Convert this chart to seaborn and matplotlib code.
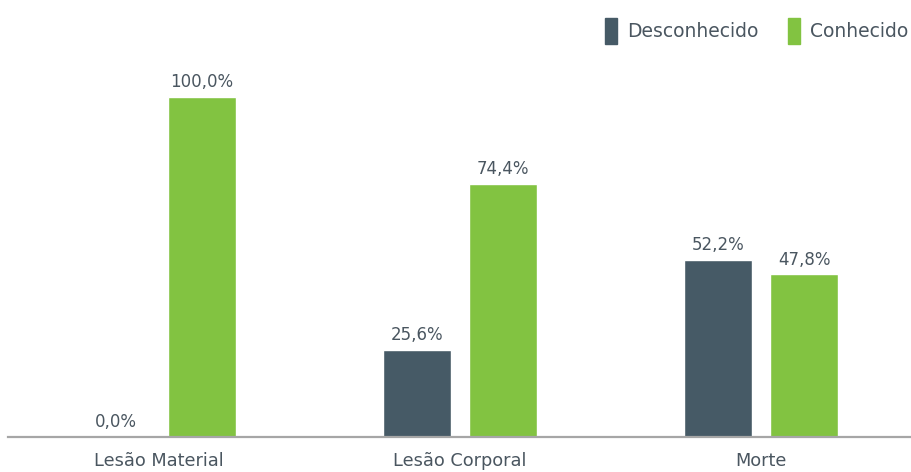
import matplotlib
matplotlib.use("Agg")
import matplotlib.pyplot as plt
import matplotlib.patches as mpatches
import seaborn as sns
import pandas as pd

categories = ["Lesão Material", "Lesão Corporal", "Morte"]
series = ["Desconhecido", "Conhecido"]
desconhecido = [0.0, 25.6, 52.2]
conhecido = [100.0, 74.4, 47.8]
colors = ["#465a66", "#82c341"]
text_color = "#4a5660"

df = pd.DataFrame({
    "categoria": categories * 2,
    "tipo": [series[0]] * 3 + [series[1]] * 3,
    "valor": desconhecido + conhecido,
})

sns.set_theme(style="white")
plt.rcParams["font.family"] = ["DejaVu Sans"]

fig = plt.figure(figsize=(9.12, 4.72), dpi=100)
ax = fig.add_axes([8 / 912, 35 / 472, 904 / 912, 374 / 472])

sns.barplot(data=df, x="categoria", y="valor", hue="tipo", order=categories,
            hue_order=series, palette=colors, width=0.571, gap=0.21,
            saturation=1, legend=False, ax=ax)

ax.set_ylim(0, 110)
ax.set_xlim(-0.5, 2.5)
ax.set_xlabel("")
ax.set_ylabel("")
ax.set_yticks([])
for side in ["top", "right", "left"]:
    ax.spines[side].set_visible(False)
ax.spines["bottom"].set_color("#a6a6a6")
ax.spines["bottom"].set_linewidth(1.6)
ax.tick_params(axis="x", length=0, pad=10.5, labelsize=12.8, labelcolor=text_color)

for container in ax.containers:
    labels = [f"{v:.1f}%".replace(".", ",") for v in container.datavalues]
    ax.bar_label(container, labels=labels, padding=4, fontsize=12, color=text_color)

handles = [mpatches.Patch(color=c, label=s) for c, s in zip(colors, series)]
fig.legend(handles=handles, loc="center right", bbox_to_anchor=(1.0, 1 - 31 / 472),
           ncol=2, frameon=False, fontsize=13.5, labelcolor=text_color,
           borderaxespad=0.0, borderpad=0.2,
           handlelength=0.6, handleheight=1.8, handletextpad=0.55, columnspacing=1.6)

fig.savefig("out.png", dpi=100)
